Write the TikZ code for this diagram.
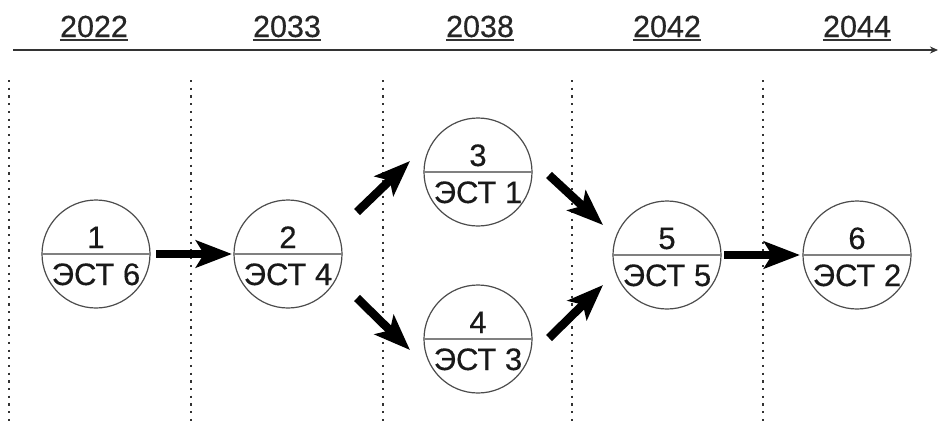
\documentclass[tikz,border=0pt]{standalone}
\usepackage{fontspec}
\setmainfont{Liberation Sans}[FakeBold=0.35]
\usetikzlibrary{arrows.meta,calc}
\begin{document}
\begin{tikzpicture}[x=1pt,y=-1pt,
  year/.style={font=\fontsize{30.5}{36}\selectfont, inner sep=0pt, anchor=base, text=black!85},
  circ/.style={circle, draw=black!70, line width=1.2pt, minimum size=108pt, inner sep=0pt},
  num/.style={font=\fontsize{31}{36}\selectfont, inner sep=0pt, anchor=base, text=black!90},
  chord/.style={draw=black!50, line width=1.3pt},
  bigarrow/.style={line width=8.5pt, black, -{Stealth[length=36pt,width=27pt,inset=8pt]}},
  vgrid/.style={dash pattern=on 2.2pt off 5.5pt, line width=2pt, black!80},
  axisline/.style={line width=1.8pt, black!80, -{Stealth[length=8pt,width=7pt]}},
  uline/.style={line width=1.4pt, black!80}]
\useasboundingbox (0,0) rectangle (940,424);

% time axis
\coordinate (ax0) at (13,50);
\coordinate (ax1) at (938,50);
\draw[axisline] (ax0) -- (ax1);

% years
\foreach \x/\yr [count=\i] in {94/2022, 287/2033, 480/2038, 667/2042, 857/2044}{
  \node[year] (y\i) at (\x,37) {\yr};
  \draw[uline] ([yshift=-3pt]y\i.base west) -- ([yshift=-3pt]y\i.base east);
}

% dotted separators
\foreach \x [count=\i] in {9,191,383,572,763}{
  \coordinate (g\i t) at (\x,80);
  \coordinate (g\i b) at (\x,424);
  \draw[vgrid] (g\i t) -- (g\i b);
}

% event circles
\foreach \x/\y/\n/\e [count=\i] in {96/254/1/6, 288/254/2/4, 478/172/3/1, 478/339/4/3, 667/255/5/5, 857/255/6/2}{
  \node[circ] (c\i) at (\x,\y) {};
  \draw[chord] (c\i.west) -- (c\i.east);
  \node[num] (n\i) at ($(c\i.center)+(0,-6)$) {\n};
  \node[num] (e\i) at ($(c\i.center)+(0,31)$) {ЭСТ \e};
}

% connectors
\coordinate (a12s) at ($(c1)+(60,0)$);
\coordinate (a12e) at ($(c2)+(-56,0)$);
\coordinate (a23s) at ($(c2)+(69,-42)$);
\coordinate (a23e) at ($(c3)+(-68,-11)$);
\coordinate (a24s) at ($(c2)+(69,44)$);
\coordinate (a24e) at ($(c4)+(-68,11)$);
\coordinate (a35s) at ($(c3)+(71,3)$);
\coordinate (a35e) at ($(c5)+(-64,-30)$);
\coordinate (a45s) at ($(c4)+(71,-1)$);
\coordinate (a45e) at ($(c5)+(-64,30)$);
\coordinate (a56s) at ($(c5)+(57,0)$);
\coordinate (a56e) at ($(c6)+(-57,0)$);

\draw[bigarrow] (a12s) -- (a12e);
\draw[bigarrow] (a23s) -- (a23e);
\draw[bigarrow] (a24s) -- (a24e);
\draw[bigarrow] (a35s) -- (a35e);
\draw[bigarrow] (a45s) -- (a45e);
\draw[bigarrow] (a56s) -- (a56e);
\end{tikzpicture}
\end{document}
